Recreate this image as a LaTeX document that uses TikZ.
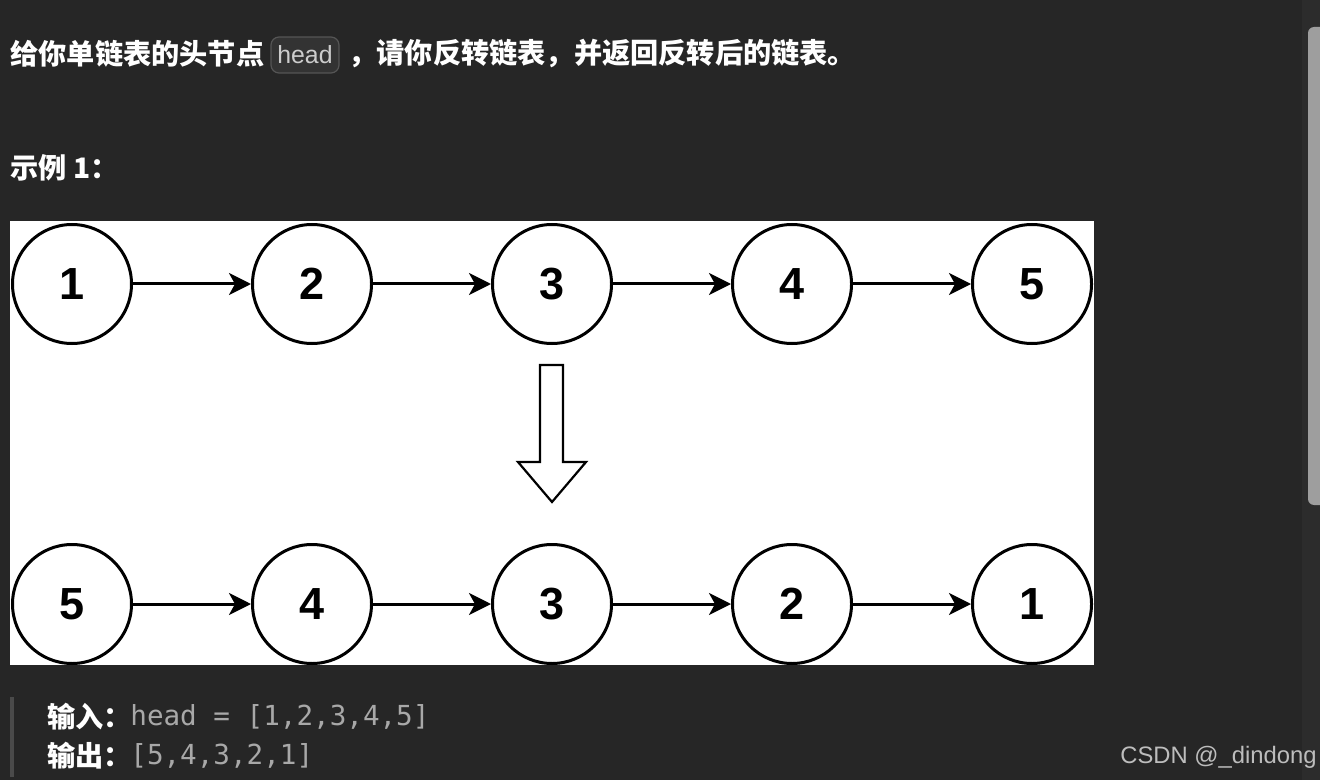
\documentclass[tikz,border=0pt]{standalone}
\usepackage{fontspec}
\setmainfont{Noto Sans CJK SC}
\newfontfamily\numfont{Liberation Sans}
\newfontfamily\codefont{DejaVu Sans Mono}
\usetikzlibrary{arrows.meta}
\definecolor{pagebg}{HTML}{262626}
\definecolor{trackbg}{HTML}{2C2C2C}
\definecolor{thumbgray}{HTML}{9E9E9E}
\definecolor{badgebg}{HTML}{333333}
\definecolor{badgeline}{HTML}{555555}
\definecolor{codegray}{HTML}{A8A8A8}
\definecolor{quotebar}{HTML}{4A4A4A}
\definecolor{markgray}{HTML}{BDBDBD}

\begin{document}
\begin{tikzpicture}[x=0.5pt,y=-0.5pt,
    lnode/.style={circle,draw=black,fill=white,line width=1.5pt,minimum size=59.5pt,inner sep=0pt,
      font=\numfont\bfseries\fontsize{22.5}{23}\selectfont},
    nextarr/.style={-{Stealth[length=11pt,width=11pt,inset=3pt]},line width=1.5pt},
    cjktxt/.style={anchor=west,inner sep=0pt,text=white,font=\bfseries\fontsize{14.1}{16}\selectfont},
    codetxt/.style={anchor=west,inner sep=0pt,text=codegray,font=\codefont\fontsize{13.8}{16}\selectfont},
    badge/.style={draw=badgeline,fill=badgebg,rounded corners=4pt,line width=0.6pt,minimum width=34pt,
      minimum height=18pt,inner sep=0pt,text=black!20,font=\numfont\fontsize{12.4}{14}\selectfont}]
\useasboundingbox (0,0) rectangle (1320,780);
\fill[pagebg] (0,0) rectangle (1320,780);
% scrollbar
\fill[trackbg] (1302,0) rectangle (1320,780);
\fill[thumbgray,rounded corners=3pt] (1308,27) rectangle (1330,505);
% question text
\node[cjktxt] (intro) at (10,54) {给你单链表的头节点};
\node[badge] (hd) at (305,55) {head};
\node[cjktxt] (rest) at (348,54) {，请你反转链表，并返回反转后的链表。};
\node[cjktxt] (ex) at (10,168) {示例 1：};
% picture area
\fill[white] (10,221) rectangle (1094,665);
\foreach \v [count=\i] in {1,2,3,4,5} {
  \node[lnode] (t\i) at ({72+240*(\i-1)},284) {\v};
}
\foreach \v [count=\i] in {5,4,3,2,1} {
  \node[lnode] (b\i) at ({72+240*(\i-1)},604) {\v};
}
\foreach \i in {1,...,4} {
  \pgfmathtruncatemacro{\n}{\i+1}
  \draw[nextarr] (t\i) -- (t\n);
  \draw[nextarr] (b\i) -- (b\n);
}
% hollow down arrow
\draw[line width=1.1pt,fill=white,line join=miter]
  (540,365) -- (563,365) -- (563,462) -- (586,462) -- (552,502) -- (518,462) -- (540,462) -- cycle;
% input / output
\fill[quotebar] (10,697) rectangle (14,777);
\node[cjktxt] (inlbl) at (47,717) {输入：};
\node[codetxt] (incode) at (130,717) {head = [1,2,3,4,5]};
\node[cjktxt] (outlbl) at (47,756) {输出：};
\node[codetxt] (outcode) at (130,756) {[5,4,3,2,1]};
% watermark
\node[anchor=west,inner sep=0pt,text=markgray,font=\numfont\fontsize{11.9}{14}\selectfont] (mark) at (1120,757) {CSDN @\_dindong};
\end{tikzpicture}
\end{document}
